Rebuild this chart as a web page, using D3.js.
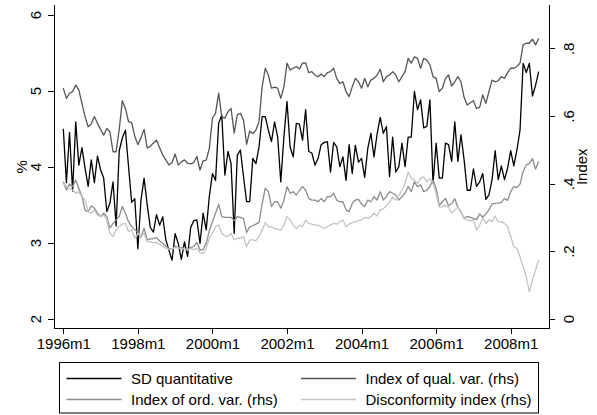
<!DOCTYPE html>
<html>
<head>
<meta charset="utf-8">
<script src="https://cdn.jsdelivr.net/npm/d3@7"></script>
<style>
  html, body { margin: 0; padding: 0; background: #fff; }
  svg { display: block; }
  text { font-family: "Liberation Sans", Arial, sans-serif; fill: #000; }
  .axis path, .axis line { stroke: #000; stroke-width: 1; shape-rendering: crispEdges; }
  .series { fill: none; stroke-width: 1.3; stroke-linejoin: round; }
</style>
</head>
<body>
<svg id="chart" width="597" height="415"></svg>
<script>
// ---------------------------------------------------------------------------
// Data (monthly, 1996m1 .. 2008m10)
// ---------------------------------------------------------------------------

const startYear = 1996;

// SD of quantitative expectations, % (left axis)
const sdQuant = [
  4.50, 3.79, 4.45, 3.68, 4.59, 4.02, 4.25, 3.98, 3.74, 4.09,
  3.79, 4.14, 3.96, 3.85, 3.41, 3.52, 3.80, 3.22, 4.21, 4.38,
  4.48, 4.00, 3.53, 3.58, 2.92, 3.56, 3.85, 3.50, 3.20, 3.14,
  3.37, 3.23, 3.34, 3.04, 2.90, 2.77, 3.12, 2.99, 2.78, 3.01,
  2.82, 3.20, 3.29, 3.30, 2.99, 3.39, 3.17, 3.61, 3.91, 3.82,
  4.57, 4.68, 3.89, 4.20, 4.04, 3.12, 4.15, 4.22, 3.87, 3.54,
  3.54, 4.11, 4.04, 4.26, 4.66, 4.66, 4.48, 4.33, 4.59, 4.39,
  3.80, 4.39, 4.86, 4.26, 4.13, 4.57, 4.56, 4.35, 4.75, 4.20,
  4.18, 4.02, 4.11, 4.29, 4.32, 4.33, 3.93, 4.32, 4.26, 4.00,
  4.13, 3.82, 4.29, 3.91, 4.28, 4.06, 4.11, 3.86, 4.24, 4.44,
  4.13, 4.43, 4.65, 4.44, 4.53, 3.87, 4.39, 3.93, 4.00, 4.31,
  4.00, 4.39, 4.39, 4.99, 4.75, 4.88, 4.51, 4.53, 4.88, 3.78,
  4.31, 3.85, 3.85, 4.31, 4.29, 4.07, 4.59, 4.07, 4.42, 4.09,
  3.69, 3.69, 3.97, 3.74, 3.80, 3.91, 3.57, 3.63, 3.83, 4.21,
  3.83, 4.01, 3.83, 3.98, 4.21, 4.01, 4.22, 4.48, 5.36, 5.24,
  5.36, 4.93, 5.07, 5.25
];

// Index of qualitative variation (right axis)
const qualVar = [
  0.682, 0.652, 0.667, 0.672, 0.691, 0.677, 0.637, 0.598, 0.568, 0.576,
  0.598, 0.578, 0.560, 0.543, 0.563, 0.553, 0.494, 0.494, 0.560, 0.645,
  0.622, 0.583, 0.580, 0.540, 0.515, 0.535, 0.560, 0.505, 0.510, 0.520,
  0.528, 0.506, 0.484, 0.470, 0.455, 0.462, 0.487, 0.455, 0.464, 0.470,
  0.460, 0.458, 0.462, 0.480, 0.440, 0.467, 0.469, 0.504, 0.593, 0.608,
  0.667, 0.598, 0.593, 0.612, 0.622, 0.549, 0.603, 0.608, 0.588, 0.516,
  0.555, 0.548, 0.558, 0.583, 0.686, 0.741, 0.721, 0.682, 0.685, 0.682,
  0.652, 0.686, 0.756, 0.736, 0.741, 0.746, 0.739, 0.756, 0.757, 0.728,
  0.731, 0.721, 0.716, 0.724, 0.716, 0.728, 0.731, 0.741, 0.711, 0.696,
  0.701, 0.672, 0.657, 0.686, 0.711, 0.701, 0.682, 0.711, 0.686, 0.706,
  0.711, 0.721, 0.738, 0.701, 0.716, 0.721, 0.731, 0.721, 0.701, 0.716,
  0.731, 0.770, 0.756, 0.775, 0.770, 0.741, 0.770, 0.765, 0.751, 0.716,
  0.711, 0.672, 0.682, 0.711, 0.721, 0.688, 0.701, 0.716, 0.701, 0.655,
  0.632, 0.639, 0.645, 0.622, 0.625, 0.662, 0.637, 0.672, 0.706, 0.701,
  0.704, 0.716, 0.711, 0.728, 0.741, 0.741, 0.746, 0.756, 0.810, 0.815,
  0.815, 0.827, 0.810, 0.830
];

// Index of ordinal variation (right axis)
const ordVar = [
  0.405, 0.381, 0.398, 0.391, 0.410, 0.386, 0.361, 0.321, 0.317, 0.334,
  0.327, 0.312, 0.302, 0.312, 0.302, 0.268, 0.282, 0.292, 0.302, 0.332,
  0.312, 0.287, 0.273, 0.263, 0.258, 0.241, 0.268, 0.233, 0.236, 0.237,
  0.240, 0.230, 0.223, 0.215, 0.208, 0.205, 0.215, 0.209, 0.210, 0.209,
  0.205, 0.211, 0.213, 0.226, 0.203, 0.205, 0.223, 0.260, 0.287, 0.312,
  0.338, 0.302, 0.300, 0.300, 0.300, 0.290, 0.302, 0.300, 0.297, 0.255,
  0.272, 0.275, 0.280, 0.285, 0.340, 0.386, 0.376, 0.332, 0.346, 0.346,
  0.327, 0.350, 0.391, 0.371, 0.376, 0.366, 0.380, 0.391, 0.380, 0.356,
  0.351, 0.351, 0.346, 0.356, 0.346, 0.361, 0.361, 0.371, 0.351, 0.346,
  0.346, 0.322, 0.317, 0.341, 0.351, 0.353, 0.339, 0.332, 0.351, 0.346,
  0.361, 0.351, 0.376, 0.351, 0.361, 0.376, 0.371, 0.366, 0.351, 0.361,
  0.371, 0.391, 0.376, 0.405, 0.391, 0.396, 0.376, 0.380, 0.391, 0.410,
  0.386, 0.335, 0.346, 0.356, 0.335, 0.340, 0.355, 0.330, 0.315, 0.297,
  0.303, 0.300, 0.297, 0.293, 0.310, 0.300, 0.310, 0.322, 0.340, 0.341,
  0.342, 0.344, 0.356, 0.350, 0.376, 0.391, 0.388, 0.398, 0.435, 0.455,
  0.459, 0.474, 0.443, 0.465
];

// Disconformity index (right axis)
const disconf = [
  0.400, 0.391, 0.386, 0.381, 0.371, 0.376, 0.361, 0.351, 0.317, 0.312,
  0.321, 0.307, 0.302, 0.307, 0.292, 0.252, 0.243, 0.263, 0.273, 0.280,
  0.282, 0.258, 0.263, 0.238, 0.252, 0.243, 0.252, 0.228, 0.228, 0.225,
  0.225, 0.220, 0.215, 0.209, 0.205, 0.205, 0.211, 0.210, 0.206, 0.207,
  0.203, 0.208, 0.204, 0.209, 0.195, 0.193, 0.208, 0.238, 0.253, 0.272,
  0.277, 0.253, 0.245, 0.243, 0.253, 0.233, 0.238, 0.238, 0.243, 0.213,
  0.233, 0.233, 0.231, 0.243, 0.262, 0.284, 0.272, 0.272, 0.267, 0.265,
  0.262, 0.277, 0.302, 0.292, 0.277, 0.267, 0.277, 0.272, 0.292, 0.282,
  0.280, 0.277, 0.277, 0.272, 0.267, 0.272, 0.277, 0.282, 0.280, 0.287,
  0.292, 0.272, 0.280, 0.284, 0.287, 0.290, 0.292, 0.300, 0.297, 0.302,
  0.312, 0.304, 0.322, 0.325, 0.335, 0.345, 0.360, 0.350, 0.365, 0.380,
  0.400, 0.434, 0.415, 0.410, 0.400, 0.415, 0.420, 0.405, 0.415, 0.400,
  0.370, 0.330, 0.331, 0.336, 0.331, 0.312, 0.322, 0.331, 0.317, 0.297,
  0.292, 0.290, 0.292, 0.262, 0.277, 0.297, 0.282, 0.292, 0.287, 0.304,
  0.287, 0.287, 0.282, 0.272, 0.243, 0.213, 0.208, 0.183, 0.154, 0.124,
  0.080, 0.114, 0.144, 0.174
];

// Axis ticks
const xTickMonths = [0, 24, 48, 72, 96, 120, 144];
const xTickLabels = ["1996m1", "1998m1", "2000m1", "2002m1", "2004m1", "2006m1", "2008m1"];
const leftTicks = [2, 3, 4, 5, 6];
const leftTickLabels = ["2", "3", "4", "5", "6"];
const rightTicks = [0, 0.2, 0.4, 0.6, 0.8];
const rightTickLabels = ["0", ".2", ".4", ".6", ".8"];

const seriesNames = [
  "SD quantitative",
  "Index of qual. var. (rhs)",
  "Index of ord. var. (rhs)",
  "Disconformity index (rhs)"
];
const seriesColors = ["#000000", "#555555", "#8c8c8c", "#c3c3c3"];

(function () {
  // ---------------------------------------------------------------------------
  // Layout
  // ---------------------------------------------------------------------------

  const FONT = 15;
  const PLOT_LEFT = 54;
  const PLOT_RIGHT = 549;
  const PLOT_TOP = 5;
  const PLOT_BOTTOM = 328.5;

  const svg = d3.select("#chart");

  const x = d3.scaleLinear().domain([0, 144]).range([63.3, 510.7]);
  const yL = d3.scaleLinear().domain([2, 6]).range([318.7, 14.7]);
  const yR = d3.scaleLinear().domain([0, 0.8]).range([318.7, 48.3]);

  // ---------------------------------------------------------------------------
  // Axes
  // ---------------------------------------------------------------------------

  // left
  const gL = svg.append("g")
    .attr("class", "axis")
    .attr("transform", `translate(${PLOT_LEFT},0)`)
    .call(d3.axisLeft(yL).tickValues(leftTicks).tickSize(6).tickSizeOuter(0)
      .tickFormat((d, i) => leftTickLabels[i]));
  gL.select(".domain").remove();
  gL.selectAll(".tick text")
    .attr("x", null).attr("dy", null)
    .attr("text-anchor", "middle")
    .attr("font-size", FONT)
    .attr("transform", "translate(-13.5,0) rotate(-90)");

  // right
  const gR = svg.append("g")
    .attr("class", "axis")
    .attr("transform", `translate(${PLOT_RIGHT},0)`)
    .call(d3.axisRight(yR).tickValues(rightTicks).tickSize(6).tickSizeOuter(0)
      .tickFormat((d, i) => rightTickLabels[i]));
  gR.select(".domain").remove();
  gR.selectAll(".tick text")
    .attr("x", null).attr("dy", null)
    .attr("text-anchor", "middle")
    .attr("font-size", FONT)
    .attr("transform", "translate(24.5,0) rotate(-90)");

  // bottom
  const gB = svg.append("g")
    .attr("class", "axis")
    .attr("transform", `translate(0,${PLOT_BOTTOM})`)
    .call(d3.axisBottom(x).tickValues(xTickMonths).tickSize(5).tickSizeOuter(0)
      .tickFormat((d, i) => xTickLabels[i]));
  gB.select(".domain").remove();
  gB.selectAll(".tick text")
    .attr("y", 10)
    .attr("dy", "0.71em")
    .attr("font-size", FONT);

  // axis lines
  const frame = svg.append("g").attr("class", "axis");
  frame.append("line")
    .attr("x1", PLOT_LEFT).attr("x2", PLOT_LEFT)
    .attr("y1", PLOT_TOP).attr("y2", PLOT_BOTTOM);
  frame.append("line")
    .attr("x1", PLOT_RIGHT).attr("x2", PLOT_RIGHT)
    .attr("y1", PLOT_TOP).attr("y2", PLOT_BOTTOM);
  frame.append("line")
    .attr("x1", PLOT_LEFT).attr("x2", PLOT_RIGHT)
    .attr("y1", PLOT_BOTTOM).attr("y2", PLOT_BOTTOM);

  // axis titles
  svg.append("text")
    .attr("transform", `translate(27,${(PLOT_TOP + PLOT_BOTTOM) / 2}) rotate(-90)`)
    .attr("text-anchor", "middle")
    .attr("font-size", FONT)
    .text("%");
  svg.append("text")
    .attr("transform", `translate(586.5,${(PLOT_TOP + PLOT_BOTTOM) / 2}) rotate(-90)`)
    .attr("text-anchor", "middle")
    .attr("font-size", FONT)
    .text("Index");

  // ---------------------------------------------------------------------------
  // Lines
  // ---------------------------------------------------------------------------

  const lineL = d3.line().x((d, i) => x(i)).y((d) => yL(d));
  const lineR = d3.line().x((d, i) => x(i)).y((d) => yR(d));

  const lines = [
    { data: sdQuant, gen: lineL },
    { data: qualVar, gen: lineR },
    { data: ordVar, gen: lineR },
    { data: disconf, gen: lineR }
  ];

  const plot = svg.append("g").attr("class", "plot");
  lines.forEach((s, k) => {
    plot.append("path")
      .attr("class", "series")
      .attr("stroke", seriesColors[k])
      .attr("d", s.gen(s.data));
  });

  // ---------------------------------------------------------------------------
  // Legend
  // ---------------------------------------------------------------------------

  const legend = svg.append("g").attr("class", "legend");
  legend.append("rect")
    .attr("x", 59.5).attr("y", 362.5)
    .attr("width", 479).attr("height", 50.5)
    .attr("fill", "#fff")
    .attr("stroke", "#000")
    .attr("stroke-width", 1);

  const colX = [66.5, 301];
  const rowY = [378.5, 399.5];
  seriesNames.forEach((name, k) => {
    const cx = colX[k % 2];
    const cy = rowY[Math.floor(k / 2)];
    legend.append("line")
      .attr("x1", cx).attr("x2", cx + 55)
      .attr("y1", cy).attr("y2", cy)
      .attr("stroke", seriesColors[k])
      .attr("stroke-width", 1.3);
    legend.append("text")
      .attr("x", cx + 64.5)
      .attr("y", cy)
      .attr("dy", "0.36em")
      .attr("font-size", FONT)
      .text(name);
  });
})();
</script>
</body>
</html>
